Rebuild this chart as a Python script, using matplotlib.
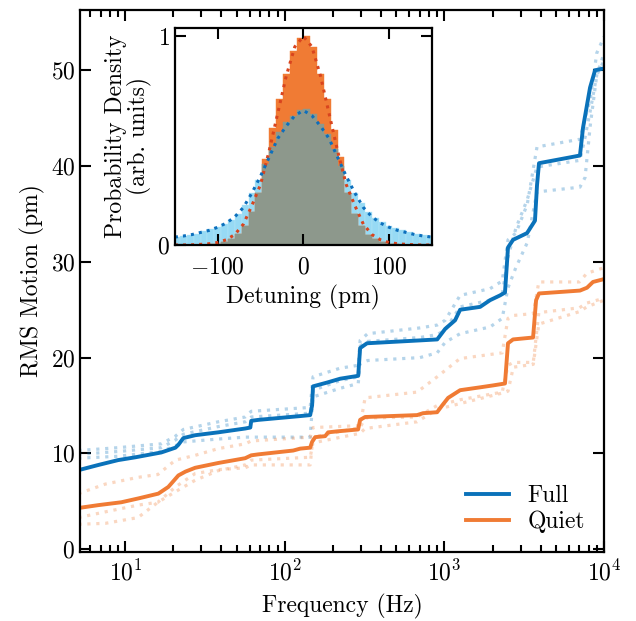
import numpy as np
import matplotlib
matplotlib.use("Agg")
import matplotlib.pyplot as plt

plt.rcParams['font.family'] = 'serif'
plt.rcParams['font.serif'] = ['cmr10']
plt.rcParams['mathtext.fontset'] = 'cm'
plt.rcParams['axes.formatter.use_mathtext'] = True
plt.rcParams['axes.unicode_minus'] = True

# --- main panel: cumulative RMS motion vs frequency ---
full_f = [5.08, 6.8, 9.0, 11.6, 16.8, 20.6, 21.5, 23.1, 27.4, 38.2, 56.4, 60.7, 61.5, 68,
          125, 144, 148, 150, 184, 222, 288, 296, 327, 703, 900, 1010, 1165, 1253, 1673,
          1930, 2230, 2394, 2500, 2690, 3290, 3690, 3800, 3910, 7060, 7380, 8170, 8780, 10000]
full_v = [8.25, 8.8, 9.3, 9.6, 10.1, 10.6, 10.9, 11.6, 11.9, 12.2, 12.6, 12.7, 13.4, 13.5,
          13.9, 14.0, 15.0, 17.0, 17.4, 17.8, 18.1, 21.0, 21.5, 21.8, 21.9, 23.0, 23.9, 25.0, 25.3,
          26.0, 26.5, 26.8, 31.5, 32.3, 33.0, 34.3, 38.0, 40.3, 41.1, 44.0, 48.2, 50.0, 50.2]

quiet_f = [5.08, 6.77, 9.44, 12.06, 16.1, 18.6, 21.5, 23.8, 27.4, 38.2, 56.4, 61.5, 68,
           112.7, 124.8, 144, 148, 154.8, 178.7, 186.6, 212, 287.5, 296, 318, 673, 734, 899,
           966, 1054, 1253, 1673, 2015, 2394, 2500, 2690, 3590, 3750, 3910, 7060, 7820, 8520, 10000]
quiet_v = [4.3, 4.6, 4.9, 5.3, 5.8, 6.5, 7.7, 8.1, 8.5, 9.0, 9.5, 9.8, 9.9,
           10.3, 10.5, 10.6, 11.2, 11.7, 11.8, 12.2, 12.3, 12.5, 13.5, 13.8, 14.0, 14.2, 14.3,
           15.0, 15.8, 16.6, 16.9, 17.1, 17.3, 21.5, 21.9, 22.1, 26.0, 26.7, 27.0, 27.3, 27.9, 28.2]

# individual runs (dotted)
full_runs_f = [5.08, 9, 16.8, 20.6, 23.1, 38.2, 56.4, 61.5, 144, 150, 222, 288, 296, 330, 700,
               900, 1010, 1253, 1930, 2300, 2500, 2800, 3300, 3800, 7060, 7600, 8200, 9000, 10000]
full_run1 = [10.3, 10.6, 11.0, 11.8, 12.5, 13.3, 13.8, 14.4, 14.8, 18.0, 18.9, 19.2, 21.8, 22.5, 23.1,
             23.4, 23.9, 26.5, 27.2, 28.0, 32.3, 33.0, 36.0, 42.0, 42.8, 45.0, 47.0, 51.8, 53.5]
full_run2 = [9.9, 10.2, 10.6, 11.4, 12.0, 12.8, 13.3, 13.8, 14.2, 16.6, 17.6, 18.0, 21.2, 21.7, 22.1,
             22.4, 22.9, 25.3, 26.0, 26.6, 30.5, 33.5, 36.5, 39.9, 40.6, 43.0, 45.8, 49.5, 51.8]
full_run3 = [9.5, 9.7, 10.2, 10.8, 11.2, 11.5, 11.7, 11.7, 11.7, 15.9, 16.8, 17.3, 19.4, 19.7, 20.0,
             20.5, 21.6, 22.5, 23.2, 24.1, 27.3, 29.4, 32.0, 37.3, 37.8, 38.8, 44.3, 49.5, 51.0]

quiet_runs_f = [5.08, 7.5, 12, 16, 20.6, 27.4, 38.2, 56.4, 61.5, 144, 150, 296, 318, 673, 900,
                1250, 2300, 2500, 2700, 3600, 3900, 7000, 7800, 10000]
quiet_run1 = [5.8, 6.8, 7.5, 7.8, 9.3, 9.8, 10.5, 11.0, 11.3, 11.7, 12.7, 12.9, 15.8, 16.4, 18.0,
              19.9, 20.5, 24.1, 24.4, 24.6, 27.9, 27.9, 28.8, 29.4]
quiet_run2 = [3.3, 3.9, 4.6, 4.9, 6.5, 7.9, 8.3, 8.5, 8.8, 8.8, 11.7, 12.7, 13.7, 13.8, 15.0,
              15.6, 16.4, 19.2, 19.5, 19.5, 24.7, 25.2, 25.7, 26.2]
quiet_run3 = [2.6, 2.7, 3.3, 4.9, 6.0, 7.2, 8.2, 8.8, 9.3, 9.6, 11.1, 12.1, 12.6, 13.3, 14.6,
              15.2, 16.3, 16.5, 19.0, 19.3, 23.5, 24.8, 25.3, 26.0]

# --- inset: detuning histograms ---
bin_centers = np.arange(-148, 149, 8)
full_hist = [0.04, 0.045, 0.05, 0.055, 0.065, 0.075, 0.085, 0.10, 0.12, 0.15, 0.19, 0.25, 0.31,
             0.39, 0.47, 0.54, 0.59, 0.62, 0.645, 0.65, 0.63, 0.58, 0.53, 0.46, 0.38, 0.31, 0.25,
             0.20, 0.16, 0.13, 0.11, 0.09, 0.08, 0.07, 0.06, 0.055, 0.05, 0.045]
quiet_hist = [0.0, 0.0, 0.0, 0.0, 0.001, 0.003, 0.006, 0.013, 0.03, 0.055, 0.09, 0.16, 0.25,
              0.41, 0.56, 0.70, 0.82, 0.93, 0.99, 1.0, 0.95, 0.82, 0.70, 0.55, 0.42, 0.25, 0.15,
              0.09, 0.05, 0.028, 0.012, 0.006, 0.003, 0.001, 0.0, 0.0, 0.0, 0.0]

fit_x = np.arange(-150, 151, 10)
quiet_fit = [0.0, 0.0, 0.001, 0.003, 0.006, 0.012, 0.025, 0.05, 0.10, 0.19, 0.29, 0.45, 0.63, 0.81, 0.95,
             1.0, 0.95, 0.81, 0.63, 0.45, 0.29, 0.19, 0.10, 0.05, 0.025, 0.012, 0.006, 0.003, 0.001, 0.0, 0.0]
full_fit = [0.038, 0.043, 0.05, 0.06, 0.07, 0.085, 0.105, 0.135, 0.18, 0.25, 0.33, 0.42, 0.51, 0.57, 0.62,
            0.645, 0.62, 0.57, 0.51, 0.42, 0.33, 0.25, 0.18, 0.135, 0.105, 0.085, 0.07, 0.06, 0.05, 0.043, 0.038]

blue = '#0a72ba'
orange = '#f07b34'
fs = 17

fig = plt.figure(figsize=(6.36, 6.21), dpi=100)
ax = fig.add_axes([0.1258, 0.111, 0.824, 0.873])

for r in [full_run1, full_run2, full_run3]:
    ax.plot(full_runs_f, r, color=blue, alpha=0.3, lw=2.3, ls=(0, (1, 1.8)))
for r in [quiet_run1, quiet_run2, quiet_run3]:
    ax.plot(quiet_runs_f, r, color=orange, alpha=0.3, lw=2.3, ls=(0, (1, 1.8)))
ax.plot(full_f, full_v, color=blue, lw=2.8, label='Full')
ax.plot(quiet_f, quiet_v, color=orange, lw=2.8, label='Quiet')

ax.set_xscale('log')
ax.set_xlim(5.2, 1e4)
ax.set_ylim(-0.3, 56.3)
ax.set_yticks([0, 10, 20, 30, 40, 50])
ax.set_xlabel('Frequency (Hz)', fontsize=fs, labelpad=6)
ax.set_ylabel('RMS Motion (pm)', fontsize=fs)
ax.tick_params(which='both', direction='in', top=True, right=True, labelsize=fs, width=1.5)
ax.tick_params(which='major', length=8)
ax.tick_params(which='minor', length=5)
ax.tick_params(axis='x', which='major', pad=6)
for s in ax.spines.values():
    s.set_linewidth(1.6)
ax.legend(loc='lower right', frameon=False, fontsize=fs, handlelength=1.8,
          borderaxespad=0.4, labelspacing=0.15)

ins = fig.add_axes([0.275, 0.6055, 0.404, 0.3494])
ins.bar(bin_centers, full_hist, width=8, color='#97daf4', edgecolor='#b8e6f8', lw=0.3)
ins.bar(bin_centers, quiet_hist, width=8, color='#f07b34', edgecolor='#f07b34', lw=0.3)
ins.bar(bin_centers, np.minimum(full_hist, quiet_hist), width=8, color='#8d988c',
        edgecolor='#8d988c', lw=0.3)
ins.plot(fit_x, quiet_fit, color='#d9441e', lw=2.2, ls=':')
ins.plot(fit_x, full_fit, color='#0c6fbd', lw=2.2, ls=':')
ins.set_xlim(-150, 150)
ins.set_ylim(0, 1.04)
ins.set_xticks([-100, 0, 100])
ins.set_yticks([0, 1])
ins.set_xlabel('Detuning (pm)', fontsize=fs, labelpad=5)
ins.set_ylabel('Probability Density\n(arb. units)', fontsize=fs, linespacing=1.0)
ins.tick_params(direction='in', top=True, right=True, labelsize=fs, width=1.5, length=8)
ins.tick_params(axis='x', pad=8)
for s in ins.spines.values():
    s.set_linewidth(1.6)

fig.savefig('out.png', dpi=100)
